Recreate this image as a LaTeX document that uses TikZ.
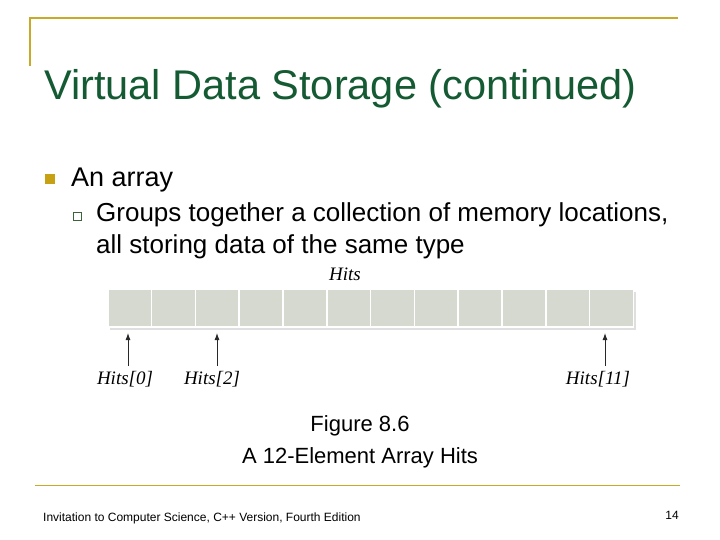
\documentclass[tikz,border=0pt]{standalone}
\usepackage{fontspec}
\setmainfont{Liberation Sans}
\newfontfamily\serifit{Liberation Serif}[]
\usetikzlibrary{arrows.meta}
\begin{document}
\begin{tikzpicture}[x=1pt,y=-1pt,
  gold/.style={draw={rgb,255:red,200;green,170;blue,40},line width=2pt},
  cell/.style={fill={rgb,255:red,214;green,217;blue,208},draw=white,line width=1.5pt,minimum width=43.8pt,minimum height=38pt,inner sep=0pt,anchor=north west},
  lab/.style={font=\serifit\itshape\fontsize{19}{22}\selectfont,inner sep=0pt},
  arr/.style={-{Latex[length=7pt,width=5pt]},line width=0.9pt,draw={rgb,255:red,40;green,40;blue,40}}]
\useasboundingbox (0,0) rectangle (720,540);
\fill[white] (0,0) rectangle (720,540);
\draw[gold] (30,66) coordinate (g1) -- (30,18) -- (678,18);
\draw[gold,line width=1pt] (35,485) -- (680,485);
\node[anchor=base west,inner sep=0pt,text={rgb,255:red,20;green,90;blue,50},font=\fontsize{41.5}{48}\selectfont] (title) at (44,100) {Virtual Data Storage (continued)};
\node[fill={rgb,255:red,200;green,160;blue,20},minimum size=10pt,inner sep=0pt] (b1) at (50,179) {};
\node[anchor=base west,inner sep=0pt,font=\fontsize{27}{32}\selectfont] (t1) at (71,187) {An array};
\node[draw={rgb,255:red,60;green,100;blue,60},line width=0.7pt,minimum size=8pt,inner sep=0pt] (b2) at (77,216) {};
\node[anchor=base west,inner sep=0pt,font=\fontsize{26}{32}\selectfont] (t2) at (96,222) {Groups together a collection of memory locations,};
\node[anchor=base west,inner sep=0pt,font=\fontsize{26}{32}\selectfont] (t3) at (96,254) {all storing data of the same type};
\fill[gray!25] (110,292) rectangle (636,330);
\foreach \i in {0,...,11}{\node[cell] (c\i) at (107+\i*43.8,288) {};}
\node[lab] (hits) at (345,274) {Hits};
\coordinate (a0) at (128,366);\coordinate (a2) at (217,366);\coordinate (a11) at (605,366);
\draw[arr] (a0) -- (128,333);\draw[arr] (a2) -- (217,333);\draw[arr] (a11) -- (605,333);
\node[lab] (l0) at (125,379) {Hits[0]};
\node[lab] (l2) at (212,379) {Hits[2]};
\node[lab] (l11) at (598,379) {Hits[11]};
\node[align=center,font=\fontsize{22}{32}\selectfont,inner sep=0pt] (cap) at (360,442) {Figure 8.6\\A 12-Element Array Hits};
\node[anchor=base west,inner sep=0pt,font=\fontsize{12}{14}\selectfont] (foot) at (43,521) {Invitation to Computer Science, C++ Version, Fourth Edition};
\node[anchor=base east,inner sep=0pt,font=\fontsize{12}{14}\selectfont] (pg) at (679,519) {14};
\end{tikzpicture}
\end{document}
